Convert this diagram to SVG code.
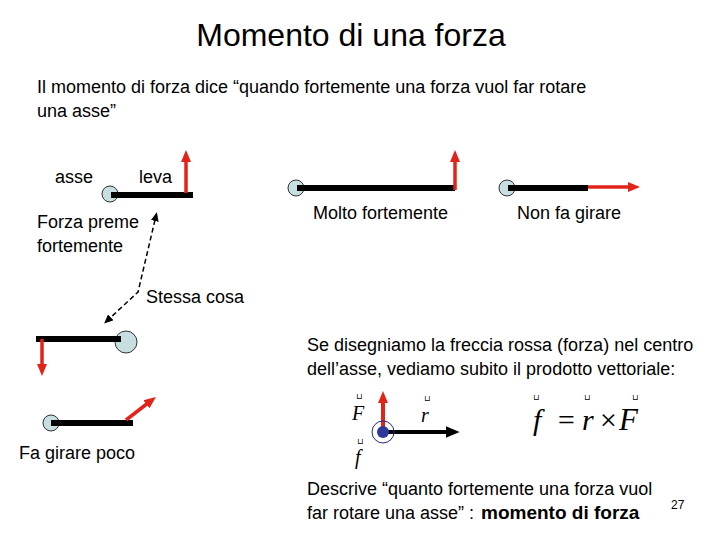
<svg xmlns="http://www.w3.org/2000/svg" width="720" height="540" viewBox="0 0 720 540">
<style>
text{font-family:"Liberation Sans",Arial,sans-serif;fill:#000}
.t{font-size:18px}
.math{font-family:"Liberation Serif","Times New Roman",serif;font-style:italic}
.hat{font-family:"DejaVu Sans",sans-serif;font-size:8px;font-style:normal}
.bar{stroke:#000;stroke-width:6;fill:none}
.red{stroke:#E2231A;stroke-width:3.5;fill:none;marker-end:url(#ra)}
.axis{fill:#C8DFE2;stroke:#333;stroke-width:1}
</style>
<defs>
<marker id="ra" markerUnits="userSpaceOnUse" markerWidth="12" markerHeight="12" refX="2" refY="5" orient="auto" viewBox="0 0 12 10">
<path d="M0,0 L12,5 L0,10 Z" fill="#E2231A"/>
</marker>
<marker id="ba" markerUnits="userSpaceOnUse" markerWidth="14" markerHeight="12" refX="2" refY="5" orient="auto" viewBox="0 0 12 10">
<path d="M0,0 L12,5 L0,10 Z" fill="#000"/>
</marker>
<marker id="da" markerUnits="userSpaceOnUse" markerWidth="9" markerHeight="8" refX="1" refY="4" orient="auto" viewBox="0 0 9 8">
<path d="M0,0 L9,4 L0,8 Z" fill="#000"/>
</marker>
<marker id="ds" markerUnits="userSpaceOnUse" markerWidth="9" markerHeight="8" refX="8" refY="4" orient="auto" viewBox="0 0 9 8">
<path d="M9,0 L0,4 L9,8 Z" fill="#000"/>
</marker>
</defs>
<rect width="720" height="540" fill="#fff"/>

<text x="351" y="46" font-size="32" text-anchor="middle">Momento di una forza</text>
<text class="t" x="37" y="93">Il momento di forza dice “quando fortemente una forza vuol far rotare</text>
<text class="t" x="37" y="117">una asse”</text>

<g id="lever1">
<circle class="axis" cx="110" cy="194" r="8"/>
<line class="bar" x1="111" y1="195" x2="193" y2="195"/>
<line class="red" x1="186" y1="193" x2="186" y2="160"/>
<text class="t" x="55" y="183">asse</text>
<text class="t" x="139" y="183">leva</text>
</g>

<g id="lever2">
<circle class="axis" cx="296" cy="188" r="8"/>
<line class="bar" x1="297" y1="188" x2="455" y2="188"/>
<line class="red" x1="455" y1="190" x2="455" y2="160"/>
<text class="t" x="313" y="219">Molto fortemente</text>
</g>

<g id="lever3">
<circle class="axis" cx="507" cy="188" r="8"/>
<line class="bar" x1="508" y1="188" x2="588" y2="188"/>
<line class="red" x1="588" y1="187" x2="630" y2="187"/>
<text class="t" x="517" y="219">Non fa girare</text>
</g>

<g id="text-forza">
<text class="t" x="37" y="228">Forza preme</text>
<text class="t" x="37" y="252">fortemente</text>
</g>
<g id="text-stessa">
<text class="t" x="146" y="303">Stessa cosa</text>
</g>

<g id="lever4">
<circle class="axis" cx="126" cy="342" r="11"/>
<line class="bar" x1="36" y1="339" x2="121" y2="339"/>
<line class="red" x1="42" y1="339" x2="42" y2="366"/>
</g>

<g id="lever5">
<circle class="axis" cx="51" cy="423" r="8"/>
<line class="bar" x1="51" y1="423" x2="133" y2="423"/>
<line class="red" x1="126" y1="420" x2="148" y2="403"/>
<text class="t" x="19" y="459">Fa girare poco</text>
</g>

<g id="connectors">
<polyline points="155,220 138,292 110,318" fill="none" stroke="#000" stroke-width="1.5" stroke-dasharray="5,3" marker-start="url(#ds)" marker-end="url(#da)"/>
</g>

<g id="text-se">
<text class="t" x="307" y="351">Se disegniamo la freccia rossa (forza) nel centro</text>
<text class="t" x="307" y="375">dell’asse, vediamo subito il prodotto vettoriale:</text>
</g>

<g id="vector-diagram">
<line x1="383" y1="432" x2="448" y2="432" stroke="#000" stroke-width="4" marker-end="url(#ba)"/>
<line x1="383" y1="432" x2="383" y2="401" stroke="#E2231A" stroke-width="4" marker-end="url(#ra)"/>
<circle cx="383" cy="432" r="11" fill="none" stroke="#1F2A80" stroke-width="1"/>
<circle cx="383" cy="432" r="6" fill="#2B3A9A"/>
<text class="math" x="352" y="420" font-size="20">F</text>
<text class="hat" x="356" y="399">⊔</text>
<text class="math" x="421" y="422" font-size="20">r</text>
<text class="hat" x="424" y="401" font-size="9">⊔</text>
<text class="math" x="355" y="464" font-size="20">f</text>
<text class="hat" x="357" y="444">⊔</text>
</g>

<g id="formula">
<text class="math" x="533" y="430" font-size="30">f</text>
<text class="math" x="556" y="430" font-size="30" font-style="normal">=</text>
<text class="math" x="582" y="430" font-size="30">r</text>
<text class="math" x="598" y="430" font-size="30" font-style="normal">×</text>
<text class="math" x="619" y="430" font-size="31">F</text>
<text class="hat" x="533" y="400" font-size="9">⊔</text>
<text class="hat" x="584" y="400" font-size="11">⊔</text>
<text class="hat" x="632" y="400" font-size="9">⊔</text>
</g>

<g id="text-descrive">
<text class="t" x="307" y="495">Descrive “quanto fortemente una forza vuol</text>
<text class="t" x="307" y="519">far rotare una asse” :</text>
<text x="481" y="519" font-size="19" font-weight="bold">momento di forza</text>
<text x="671" y="509" font-size="12">27</text>
</g>
</svg>
